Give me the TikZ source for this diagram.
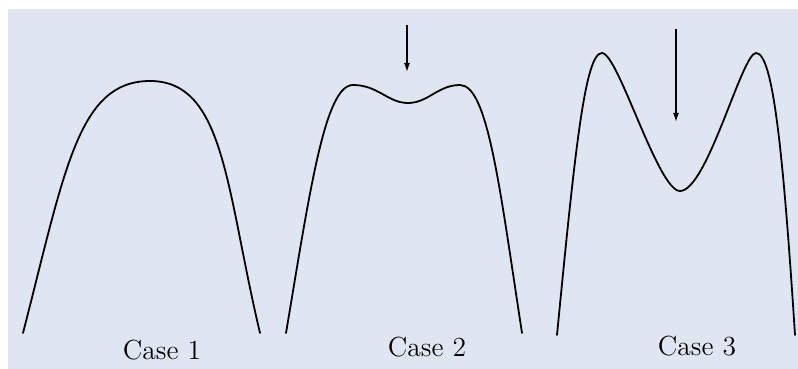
\documentclass[tikz,border=0pt]{standalone}
\usepackage{tikz}
\usepackage{xcolor}
\usetikzlibrary{arrows.meta, positioning}
\definecolor{cPanel}{RGB}{223,230,242}
\tikzset{
	curve/.style   ={line width=0.9pt, black, line cap=round},
	pointer/.style ={-{Latex[length=4.5pt, width=3pt]}, line width=0.75pt},
	caselbl/.style ={anchor=base, font=\fontsize{13.8}{16}\selectfont},
}
\begin{document}
\begin{tikzpicture}[x=0.5pt, y=-0.5pt]
			\useasboundingbox (0,0) rectangle (798,369);
			\fill[cPanel] (8,9) rectangle (798,369);
			% ---- Case 1 ----
			\draw[curve] (23,333) .. controls (65,170) and (78,81) .. (150,81)
				.. controls (225,81) and (226,190) .. (260,333);
			\node[caselbl] (case1) at (162,359) {Case 1};
			% ---- Case 2 ----
			\draw[curve] (286,333) .. controls (310,190) and (325,85) .. (353,85)
				.. controls (378,85) and (388,103) .. (408,103)
				.. controls (428,103) and (438,85) .. (460,85)
				.. controls (488,85) and (500,190) .. (522,333);
			\coordinate (top2) at (407,25);
			\coordinate (tip2) at (407,72);
			\draw[pointer] (top2) -- (tip2);
			\node[caselbl] (case2) at (427,356) {Case 2};
			% ---- Case 3 ----
			\draw[curve] (557,335) .. controls (575,150) and (585,53) .. (602,53)
				.. controls (618,53) and (658,191) .. (680,191)
				.. controls (707,191) and (742,53) .. (756,53)
				.. controls (773,53) and (783,150) .. (795,335);
			\coordinate (top3) at (676,29);
			\coordinate (tip3) at (676,122);
			\draw[pointer] (top3) -- (tip3);
			\node[caselbl] (case3) at (697,355) {Case 3};
		\end{tikzpicture}
\end{document}
